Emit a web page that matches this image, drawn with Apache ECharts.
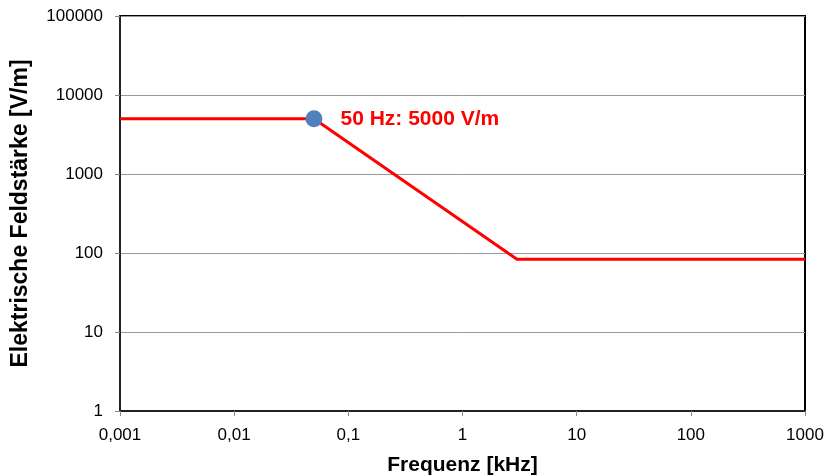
<!DOCTYPE html>
<html>
<head>
    <meta charset="utf-8">
    <title>Feldstärke</title>
    <script src="https://cdn.jsdelivr.net/npm/echarts@6/dist/echarts.min.js"></script>
</head>
<body style="margin:0">
<div id="main" style="width: 826px;height:475px;"></div>
<script>
    // Grenzwertkurve (kHz, V/m)
    var freqs = [0.001, 0.05, 3, 1000];
    var limits = [5000, 5000, 83.3, 83.3];
    // markierter Punkt 50 Hz
    var markFreq = [0.05];
    var markValue = [5000];
    var xTickLabels = ['0,001', '0,01', '0,1', '1', '10', '100', '1000'];
    var yTickLabels = ['1', '10', '100', '1000', '10000', '100000'];

    var lineData = [];
    for (var i = 0; i < freqs.length; i++) lineData.push([freqs[i], limits[i]]);

    var myChart = echarts.init(document.getElementById('main'));
    var font = 'Liberation Sans, Arial, sans-serif';
    myChart.setOption({
        animation: false,
        grid: {
            left: 120, right: 21, top: 16, bottom: 64,
            outerBoundsMode: 'none', containLabel: false,
            show: true, borderColor: '#000', borderWidth: 2
        },
        xAxis: {
            type: 'log', logBase: 10, min: 0.001, max: 1000,
            name: 'Frequenz [kHz]', nameLocation: 'middle', nameGap: 44,
            nameTextStyle: { fontFamily: font, fontSize: 21, fontWeight: 'bold', color: '#000' },
            axisLine: { lineStyle: { color: '#222', width: 2 } },
            axisTick: { show: true, length: 5, lineStyle: { color: '#888' } },
            axisLabel: {
                fontFamily: font, fontSize: 17, color: '#000', margin: 16,
                formatter: function (v) { return xTickLabels[Math.round(Math.log10(v)) + 3]; }
            },
            splitLine: { show: false },
            minorTick: { show: false }
        },
        yAxis: {
            type: 'log', logBase: 10, min: 1, max: 100000,
            name: 'Elektrische Feldstärke [V/m]', nameLocation: 'middle', nameGap: 88,
            nameTextStyle: { fontFamily: font, fontSize: 23, fontWeight: 'bold', color: '#000' },
            axisLine: { lineStyle: { color: '#222', width: 2 } },
            axisTick: { show: true, length: 5, lineStyle: { color: '#888' } },
            axisLabel: {
                fontFamily: font, fontSize: 17, color: '#000', margin: 17,
                formatter: function (v) { return yTickLabels[Math.round(Math.log10(v))]; }
            },
            splitLine: { show: true, lineStyle: { color: '#999', width: 1 } }
        },
        series: [{
            type: 'line',
            data: lineData,
            symbol: 'none',
            lineStyle: { color: '#ff0000', width: 3 },
            z: 2
        }, {
            type: 'scatter',
            data: [[markFreq[0], markValue[0]]],
            symbolSize: 17,
            itemStyle: { color: '#4f81bd', opacity: 1 },
            label: {
                show: true, position: 'right', distance: 18,
                formatter: '50 Hz: 5000 V/m',
                fontFamily: font, fontSize: 21, fontWeight: 'bold', color: '#ff0000'
            },
            z: 3
        }]
    });
</script>
</body>
</html>
